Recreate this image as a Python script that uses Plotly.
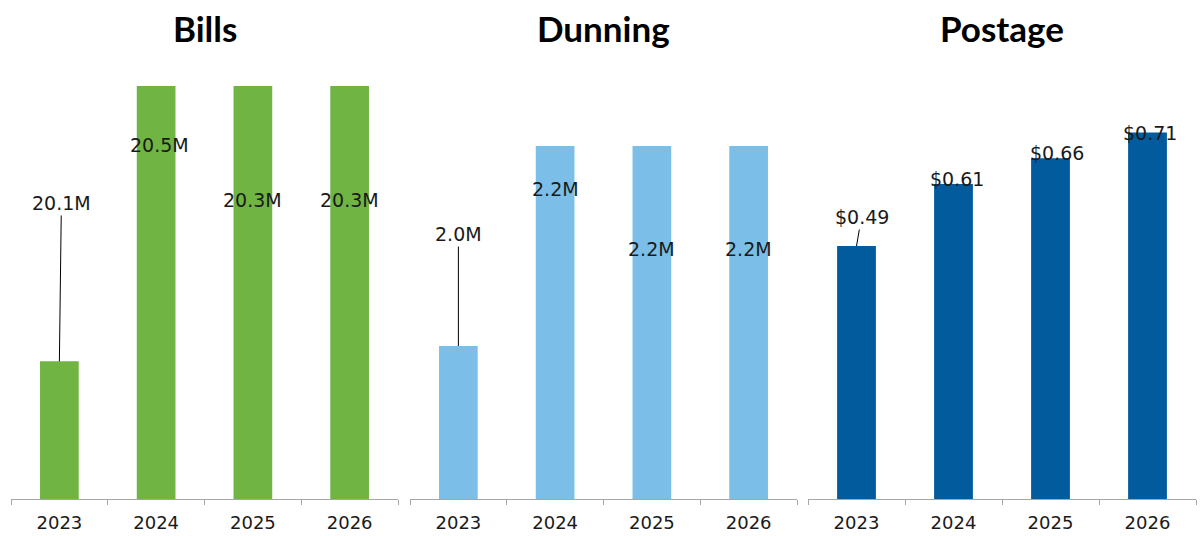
import plotly.graph_objects as go

# ---- data -------------------------------------------------------------
years = ["2023", "2024", "2025", "2026"]

bills = [20.1, 20.5, 20.3, 20.3]          # millions
dunning = [2.0, 2.2, 2.2, 2.2]            # millions
postage = [0.49, 0.61, 0.66, 0.71]        # dollars

bills_labels = ["20.1M", "20.5M", "20.3M", "20.3M"]
dunning_labels = ["2.0M", "2.2M", "2.2M", "2.2M"]
postage_labels = ["$0.49", "$0.61", "$0.66", "$0.71"]

titles = ["Bills", "Dunning", "Postage"]

# ---- layout helpers ---------------------------------------------------
W, H = 1204, 536
PLOT_TOP, PLOT_BOTTOM = 86, 499

def px_x(v):
    return v / W

def px_y(v):
    return (H - v) / H

panels = [
    dict(values=bills, labels=bills_labels, color="#70B443",
         xdom=(11, 398), yrange=[20.0, 20.3],
         # label centre: (x shift from bar centre, y pixel); first label gets a leader line
         label_pos=[(2, 203), (3, 145), (0, 200), (0, 200)], lead=[True, False, False, False]),
    dict(values=dunning, labels=dunning_labels, color="#7BBFE8",
         xdom=(410, 797), yrange=[1.847, 2.26],
         label_pos=[(0, 234), (0, 189), (0, 249), (0, 249)], lead=[True, False, False, False]),
    dict(values=postage, labels=postage_labels, color="#025B9D",
         xdom=(808, 1196), yrange=[0, 0.8],
         label_pos=[(5, 217), (3, 179), (6, 153), (2, 133)], lead=[True, False, False, False]),
]

TXT = "#1a1a1a"
LABEL_FONT = dict(family="DejaVu Sans", size=19, color=TXT)

fig = go.Figure()
annotations = []

for i, p in enumerate(panels):
    n = "" if i == 0 else str(i + 1)
    xa, ya = "x" + n, "y" + n
    fig.add_trace(go.Bar(
        x=years, y=p["values"], marker=dict(color=p["color"], line=dict(width=0)),
        xaxis=xa, yaxis=ya, showlegend=False, hoverinfo="x+y",
    ))
    dom = [px_x(p["xdom"][0]), px_x(p["xdom"][1])]
    fig.update_layout(**{
        "xaxis" + n: dict(
            domain=dom, type="category", anchor=ya, range=[-0.5, len(years) - 0.5],
            showline=True, linecolor="#a6a6a6", linewidth=1,
            ticks="outside", tickson="boundaries", ticklen=5, tickcolor="#a6a6a6",
            ticklabelstandoff=7,
            tickfont=dict(family="DejaVu Sans", size=18, color=TXT), tickangle=0,
            showgrid=False, zeroline=False, fixedrange=True,
        ),
        "yaxis" + n: dict(
            domain=[px_y(PLOT_BOTTOM), px_y(PLOT_TOP)], range=p["yrange"], anchor=xa,
            visible=False, showgrid=False, zeroline=False, fixedrange=True,
        ),
    })
    # panel title
    annotations.append(dict(
        text="<b>%s</b>" % titles[i], xref="paper", yref="paper",
        x=(dom[0] + dom[1]) / 2, y=px_y(28), xanchor="center", yanchor="middle",
        showarrow=False, font=dict(family="Lato", size=35, color="#000000"),
    ))
    # value labels (x given as category index)
    for j, (val, lab) in enumerate(zip(p["values"], p["labels"])):
        dx, ly = p["label_pos"][j]
        if p["lead"][j]:
            # leader line from the label down to the bar top
            lo, hi = p["yrange"]
            tip_px = PLOT_BOTTOM - (val - lo) / (hi - lo) * (PLOT_BOTTOM - PLOT_TOP)
            annotations.append(dict(
                text=lab, x=j, y=val, xref=xa, yref=ya,
                showarrow=True, arrowhead=0, arrowwidth=1, arrowcolor="#000000",
                ax=dx, ay=ly - tip_px, standoff=0, startstandoff=0,
                font=LABEL_FONT,
            ))
        else:
            annotations.append(dict(
                text=lab, x=j, y=px_y(ly), xref=xa, yref="paper",
                xshift=dx, xanchor="center", yanchor="middle",
                showarrow=False, font=LABEL_FONT,
            ))

fig.update_layout(
    width=W, height=H,
    margin=dict(l=0, r=0, t=0, b=0),
    paper_bgcolor="white", plot_bgcolor="white",
    bargap=0.6,
    annotations=annotations,
)

fig.write_html("out.html", config=dict(displayModeBar=False))
